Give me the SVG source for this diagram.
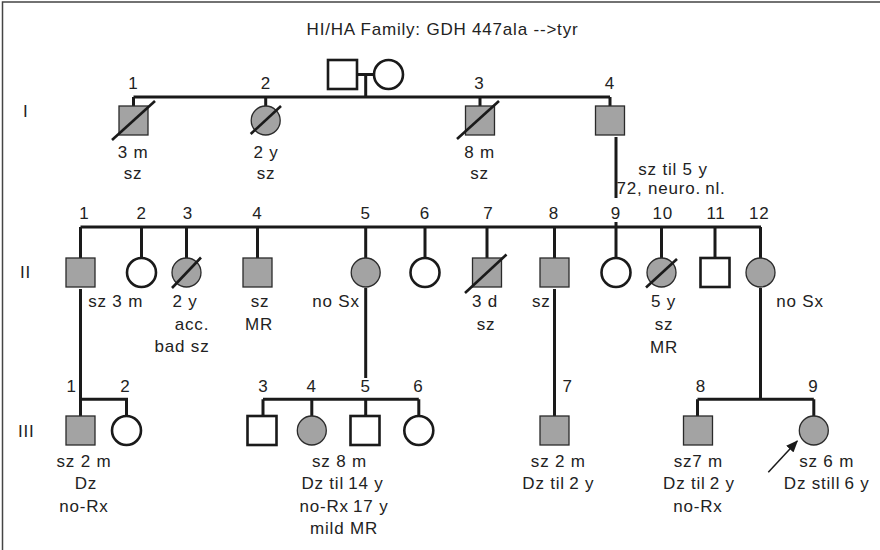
<svg xmlns="http://www.w3.org/2000/svg" width="880" height="550" viewBox="0 0 880 550">
<style>
.ln{stroke:#1a1a1a;stroke-width:3;fill:none}
.aff{fill:#a3a3a3;stroke:#2a2a2a;stroke-width:1.3}
.un{fill:#fff;stroke:#1a1a1a;stroke-width:2.6}
.dec{stroke:#1a1a1a;stroke-width:2.6}
.fr{stroke:#444;stroke-width:1.5;fill:none}
text{font-family:"Liberation Sans",Arial,sans-serif;font-size:17px;letter-spacing:0.8px;fill:#222;text-anchor:middle}
.st{text-anchor:start}
</style>
<defs>
<marker id="ah" markerWidth="12" markerHeight="10" refX="11" refY="5" orient="auto" markerUnits="userSpaceOnUse">
<path d="M0,0 L12,5 L0,10 z" fill="#1a1a1a"/>
</marker>
</defs>
<path class="fr" d="M2.5 550 V2 H880"/>
<text x="442.5" y="35">HI/HA Family: GDH 447ala --&gt;tyr</text>
<text class="st" x="23" y="117">I</text>
<text class="st" x="20" y="278">II</text>
<text class="st" x="18" y="437">III</text>

<g id="connectors">
<path class="ln" d="M357 74.5 H374 M365.7 74.5 V97"/>
<path class="ln" d="M133.5 97 H610 M133.5 97 V106 M265.7 97 V106 M480 97 V106 M610 97 V106"/>
<path class="ln" d="M616 137 V198 M616 222 V258"/>
<path class="ln" d="M80.5 227 H761 M80.5 227 V258 M141.5 227 V258 M186.5 227 V258 M257.5 227 V258 M365.7 227 V258 M425 227 V258 M487 227 V258 M554.5 227 V258 M661.5 227 V258 M715 227 V258 M760.5 227 V258"/>
<path class="ln" d="M80.5 289 V416 M80.5 399.3 H126.5 V416"/>
<path class="ln" d="M365.7 288 V378 M263 399.3 H418.8 M263 399.3 V416 M311.8 399.3 V416 M365.7 399.3 V416 M418.8 399.3 V416"/>
<path class="ln" d="M554.5 289 V416"/>
<path class="ln" d="M760.5 288 V399.3 M697.5 399.3 H813.8 M697.5 399.3 V416 M813.8 399.3 V416"/>
<line x1="768.3" y1="472.3" x2="797.3" y2="441" stroke="#1a1a1a" stroke-width="1.5" marker-end="url(#ah)"/>
</g>

<g id="I-father"><rect class="un" x="328" y="60" width="29" height="29"/></g>
<g id="I-mother"><circle class="un" cx="388.5" cy="74.5" r="14.5"/></g>

<g id="I-1"><text x="133.5" y="89">1</text><rect class="aff" x="119" y="106" width="29" height="29"/><line class="dec" x1="112" y1="140" x2="155" y2="101"/><text x="133" y="157.5">3 m</text><text x="133" y="178.5">sz</text></g>
<g id="I-2"><text x="266" y="89">2</text><circle class="aff" cx="265.7" cy="120.5" r="14.5"/><line class="dec" x1="250.7" y1="134" x2="281" y2="106"/><text x="266" y="157.5">2 y</text><text x="266" y="178.5">sz</text></g>
<g id="I-3"><text x="479.5" y="89">3</text><rect class="aff" x="465.5" y="106" width="29" height="29"/><line class="dec" x1="457" y1="139" x2="499" y2="101"/><text x="479.5" y="157.5">8 m</text><text x="479.5" y="178.5">sz</text></g>
<g id="I-4"><text x="610" y="89">4</text><rect class="aff" x="595.5" y="106" width="29" height="29"/><text x="673" y="175">sz til 5 y</text><text x="671" y="193.5">72, neuro.&#8201;nl.</text></g>

<g id="II-1"><text x="84.5" y="219">1</text><rect class="aff" x="66" y="258" width="29" height="29"/><text x="115.7" y="307">sz 3 m</text></g>
<g id="II-2"><text x="141.7" y="219">2</text><circle class="un" cx="141.5" cy="272.5" r="14.5"/></g>
<g id="II-3"><text x="188" y="219">3</text><circle class="aff" cx="186.5" cy="272.5" r="14.5"/><line class="dec" x1="172" y1="288" x2="201" y2="257.5"/><text x="185" y="307">2 y</text><text x="192" y="329.5">acc.</text><text x="182" y="352">bad sz</text></g>
<g id="II-4"><text x="257.5" y="219">4</text><rect class="aff" x="243" y="258" width="29" height="29"/><text x="260" y="307">sz</text><text x="259" y="329.5">MR</text></g>
<g id="II-5"><text x="365.7" y="219">5</text><circle class="aff" cx="365.7" cy="272.5" r="14.5"/><text x="336" y="307">no Sx</text></g>
<g id="II-6"><text x="425" y="219">6</text><circle class="un" cx="425" cy="272.5" r="14.5"/></g>
<g id="II-7"><text x="488.3" y="219">7</text><rect class="aff" x="472.5" y="258" width="29" height="29"/><line class="dec" x1="465" y1="293" x2="506.5" y2="254.5"/><text x="485" y="307">3 d</text><text x="486" y="329.5">sz</text></g>
<g id="II-8"><text x="554" y="219">8</text><rect class="aff" x="540" y="258" width="29" height="29"/><text x="541.3" y="307">sz</text></g>
<g id="II-9"><text x="616" y="219">9</text><circle class="un" cx="616" cy="272.5" r="14.5"/></g>
<g id="II-10"><text x="662.7" y="219">10</text><circle class="aff" cx="661.5" cy="272.5" r="14.5"/><line class="dec" x1="646" y1="287.5" x2="677" y2="259"/><text x="663.5" y="307">5 y</text><text x="664" y="329.5">sz</text><text x="664" y="353">MR</text></g>
<g id="II-11"><text x="716" y="219">11</text><rect class="un" x="700.5" y="258" width="29" height="29"/></g>
<g id="II-12"><text x="759.3" y="219">12</text><circle class="aff" cx="760.5" cy="272.5" r="14.5"/><text x="800" y="307">no Sx</text></g>

<g id="III-1"><text x="71.7" y="392">1</text><rect class="aff" x="66" y="416" width="29" height="29"/><text x="84" y="466.7">sz 2 m</text><text x="86" y="489">Dz</text><text x="84" y="511.7">no-Rx</text></g>
<g id="III-2"><text x="125.5" y="392">2</text><circle class="un" cx="126.5" cy="430.5" r="14.5"/></g>
<g id="III-3"><text x="263.3" y="392">3</text><rect class="un" x="247.5" y="416" width="29" height="29"/></g>
<g id="III-4"><text x="311.7" y="392">4</text><circle class="aff" cx="311.8" cy="430.5" r="14.5"/><text x="339.5" y="466.7">sz 8 m</text><text x="342.5" y="489.3">Dz til&#8201;14 y</text><text x="344" y="511.7">no-Rx&#8201;17 y</text><text x="344" y="534">mild MR</text></g>
<g id="III-5"><text x="365.7" y="392">5</text><rect class="un" x="350.5" y="416" width="29" height="29"/></g>
<g id="III-6"><text x="418.5" y="392">6</text><circle class="un" cx="418.8" cy="430.5" r="14.5"/></g>
<g id="III-7"><text x="567.7" y="392">7</text><rect class="aff" x="540" y="416" width="29" height="29"/><text x="558.3" y="466.7">sz 2 m</text><text x="558.3" y="488.5">Dz til&#8201;2 y</text></g>
<g id="III-8"><text x="701" y="392">8</text><rect class="aff" x="683.5" y="416" width="29" height="29"/><text x="698.3" y="466.7">sz7 m</text><text x="699" y="488.5">Dz til&#8201;2 y</text><text x="698" y="511.7">no-Rx</text></g>
<g id="III-9"><text x="813.3" y="392">9</text><circle class="aff" cx="813.8" cy="430.5" r="14.5"/><text x="826.7" y="466.7">sz 6 m</text><text x="826.7" y="488.5">Dz still&#8201;6 y</text></g>
</svg>
